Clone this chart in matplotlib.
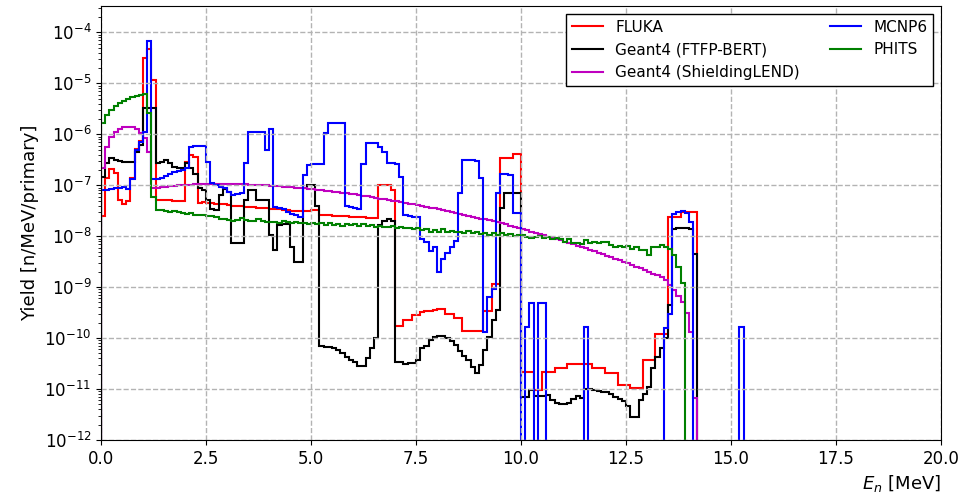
import numpy as np
import matplotlib

matplotlib.use("Agg")
import matplotlib.pyplot as plt
from matplotlib.ticker import LogLocator, NullFormatter

nan = np.nan
BIN_WIDTH = 0.1  # MeV, every code is binned on the same grid starting at 0

# log10 of the yield per 0.1 MeV bin (nan = empty bin)
fluka_log = [
    -7.60, -6.85, -6.69, -6.75, -7.28, -7.37, -7.30, -6.85, -6.28, -6.13,
    -4.51, -4.33, -4.94, -7.29, -7.29, -7.28, -7.29, -7.30, -7.30, -7.30,
    -6.55, -6.40, -6.45, -7.35, -7.33, -7.34, -7.35, -7.36, -7.37, -7.37,
    -7.38, -7.40, -7.40, -7.41, -7.42, -7.42, -7.43, -7.44, -7.45, -7.45,
    -7.46, -7.47, -7.47, -7.48, -7.49, -7.50, -7.51, -7.51, -7.50, -7.50,
    -7.49, -7.49, -7.58, -7.59, -7.59, -7.60, -7.60, -7.61, -7.61, -7.62,
    -7.62, -7.63, -7.63, -7.64, -7.64, -7.65, -6.99, -6.99, -6.99, -7.09,
    -9.76, -9.76, -9.65, -9.65, -9.55, -9.55, -9.48, -9.47, -9.46, -9.45,
    -9.43, -9.42, -9.52, -9.52, -9.61, -9.61, -9.87, -9.87, -9.87, -9.87,
    -9.87, -9.46, -9.46, -8.93, -8.93, -6.47, -6.47, -6.47, -6.39, -6.39,
    -10.67, -10.67, -10.67, -11.01, -11.01, -10.67, -10.67, -10.67, -10.59, -10.59,
    -10.59, -10.50, -10.50, -10.50, -10.50, -10.50, -10.50, -10.59, -10.59, -10.59,
    -10.69, -10.69, -10.69, -10.92, -10.92, -10.92, -10.97, -10.97, -10.97, -10.42,
    -10.42, -10.42, -9.92, -9.92, -9.92, -7.62, -7.62, -7.62, -7.52, -7.52,
    -7.52, -7.52,
]

ftfp_log = [
    -6.83, -6.56, -6.47, -6.51, -6.53, -6.54, -6.54, -6.54, -6.35, -6.20,
    -5.49, -5.49, -5.49, -6.57, -6.55, -6.51, -6.57, -6.64, -6.67, -6.67,
    -6.57, -6.67, -6.77, -7.05, -7.10, -7.29, -7.46, -7.49, -7.19, -7.08,
    -7.14, -8.14, -8.14, -8.13, -7.29, -7.10, -7.10, -7.29, -7.29, -7.29,
    -7.98, -8.27, -7.78, -7.76, -7.76, -8.21, -8.50, -8.50, -7.06, -7.00,
    -7.00, -7.41, -10.16, -10.17, -10.18, -10.20, -10.24, -10.30, -10.38, -10.42,
    -10.46, -10.54, -10.54, -10.39, -10.20, -9.99, -7.78, -7.70, -7.67, -7.70,
    -10.46, -10.46, -10.51, -10.48, -10.48, -10.42, -10.20, -10.16, -10.04, -9.97,
    -9.95, -9.96, -10.00, -10.06, -10.14, -10.25, -10.36, -10.43, -10.57, -10.69,
    -10.53, -10.24, -9.97, -9.65, -9.45, -7.45, -7.15, -7.15, -7.15, -7.15,
    -11.15, -11.15, -11.02, -11.14, -11.14, -11.13, -11.12, -11.22, -11.27, -11.29,
    -11.29, -11.27, -11.20, -11.14, -11.17, -10.99, -10.99, -11.01, -11.03, -11.05,
    -11.06, -11.10, -11.15, -11.20, -11.24, -11.33, -11.54, -11.54, -11.22, -11.10,
    -10.95, -10.59, -10.37, -10.20, -10.00, -9.35, -7.85, -7.83, -7.83, -7.83,
    -7.85, -8.34,
]

shielding_log = [
    -6.67, -6.24, -6.06, -5.95, -5.89, -5.85, -5.85, -5.86, -5.90, -5.97,
    -6.08, -6.35, -7.06, -7.05, -7.04, -7.03, -7.02, -7.01, -7.00, -7.00,
    -6.99, -6.99, -6.98, -6.98, -6.97, -6.97, -6.97, -6.97, -6.97, -6.97,
    -6.97, -6.97, -6.98, -6.98, -6.98, -6.99, -6.99, -6.99, -7.00, -7.00,
    -7.01, -7.01, -7.02, -7.03, -7.03, -7.04, -7.05, -7.05, -7.06, -7.07,
    -7.08, -7.09, -7.10, -7.11, -7.12, -7.13, -7.14, -7.15, -7.16, -7.17,
    -7.18, -7.20, -7.21, -7.22, -7.23, -7.25, -7.26, -7.27, -7.29, -7.30,
    -7.31, -7.33, -7.34, -7.36, -7.37, -7.39, -7.40, -7.42, -7.44, -7.45,
    -7.47, -7.49, -7.51, -7.53, -7.54, -7.56, -7.58, -7.60, -7.62, -7.64,
    -7.66, -7.67, -7.69, -7.71, -7.73, -7.75, -7.77, -7.79, -7.81, -7.83,
    -7.86, -7.88, -7.91, -7.93, -7.96, -7.98, -8.01, -8.03, -8.06, -8.08,
    -8.11, -8.14, -8.16, -8.19, -8.22, -8.24, -8.27, -8.30, -8.33, -8.35,
    -8.38, -8.41, -8.44, -8.47, -8.50, -8.53, -8.56, -8.60, -8.63, -8.67,
    -8.70, -8.74, -8.77, -8.81, -8.86, -8.95, -9.05, -9.17, -9.30, -9.50,
    -9.88, -11.18,
]

mcnp_log = [
    -7.10, -7.09, -7.08, -7.06, -7.05, -7.04, -7.07, -6.88, -6.30, -6.15,
    -5.95, -4.16, -6.87, -6.87, -6.85, -6.82, -6.77, -6.74, -6.72, -6.70,
    -6.67, -6.24, -6.23, -6.23, -6.23, -6.54, -6.96, -7.00, -7.03, -7.06,
    -7.13, -7.19, -7.18, -7.16, -6.56, -5.95, -5.95, -5.95, -5.96, -6.31,
    -5.89, -7.42, -7.44, -7.47, -7.52, -7.56, -7.59, -7.63, -6.80, -6.60,
    -6.59, -6.59, -6.59, -5.98, -5.77, -5.77, -5.77, -5.77, -7.41, -7.43,
    -7.45, -7.47, -6.59, -6.18, -6.18, -6.18, -6.25, -6.34, -6.56, -6.57,
    -6.58, -6.83, -7.59, -7.60, -7.62, -7.62, -8.05, -8.12, -8.30, -8.22,
    -8.70, -8.45, -8.32, -8.22, -8.10, -7.15, -6.51, -6.51, -6.51, -6.52,
    -6.85, -9.88, -9.19, -9.03, -7.16, -6.78, -6.78, -6.80, -7.55, -7.55,
    nan, -9.78, -9.31, nan, -9.31, -9.31, nan, nan, nan, nan,
    nan, nan, nan, nan, nan, -9.78, nan, nan, nan, nan,
    nan, nan, nan, nan, nan, nan, nan, nan, nan, nan,
    nan, nan, nan, nan, -9.81, -9.52, -7.56, -7.53, -7.50, -7.55,
    -7.72, nan, nan, nan, nan, nan, nan, nan, nan, nan,
    nan, nan, -9.78,
]

phits_log = [
    -5.77, -5.62, -5.52, -5.45, -5.39, -5.35, -5.30, -5.27, -5.24, -5.22,
    -5.21, -5.59, -7.23, -7.48, -7.49, -7.50, -7.52, -7.50, -7.53, -7.55,
    -7.57, -7.55, -7.59, -7.59, -7.59, -7.60, -7.61, -7.63, -7.67, -7.66,
    -7.68, -7.70, -7.69, -7.65, -7.69, -7.70, -7.71, -7.67, -7.71, -7.72,
    -7.72, -7.73, -7.74, -7.71, -7.73, -7.74, -7.72, -7.75, -7.74, -7.76,
    -7.75, -7.77, -7.74, -7.78, -7.75, -7.78, -7.76, -7.79, -7.76, -7.78,
    -7.77, -7.80, -7.77, -7.80, -7.78, -7.81, -7.79, -7.82, -7.81, -7.80,
    -7.83, -7.81, -7.84, -7.83, -7.85, -7.84, -7.87, -7.85, -7.91, -7.88,
    -7.91, -7.85, -7.92, -7.89, -7.92, -7.91, -7.93, -7.90, -7.94, -7.92,
    -7.95, -7.93, -7.97, -7.94, -7.97, -7.94, -7.98, -7.95, -7.99, -7.97,
    -7.98, -8.02, -8.04, -8.02, -8.00, -8.04, -8.02, -8.06, -8.04, -8.05,
    -8.11, -8.06, -8.14, -8.13, -8.16, -8.08, -8.13, -8.11, -8.14, -8.11,
    -8.12, -8.18, -8.21, -8.20, -8.22, -8.20, -8.26, -8.21, -8.27, -8.27,
    -8.37, -8.21, -8.21, -8.18, -8.21, -8.25, -8.37, -8.60, -8.92,
]

labels = ["FLUKA", "Geant4 (FTFP-BERT)", "Geant4 (ShieldingLEND)", "MCNP6", "PHITS"]
colors = ["r", "k", "m", "b", "g"]


def to_yield(log_values):
    v = np.array(log_values, dtype=float)
    return np.where(np.isnan(v), 0.0, 10.0 ** v)


plt.rcParams["font.size"] = 11

fig = plt.figure(figsize=(9.66, 4.99), dpi=100)
ax = fig.add_axes([101 / 966, 59 / 499, 840 / 966, 434 / 499])

for label, logs, color in zip(
    labels, [fluka_log, ftfp_log, shielding_log, mcnp_log, phits_log], colors
):
    y = to_yield(logs)
    edges = np.arange(len(y) + 1) * BIN_WIDTH
    ax.stairs(y, edges, color=color, label=label, linewidth=1.5)

ax.set_yscale("log")
ax.set_xlim(0, 20)
ax.set_ylim(1e-12, 3.3e-4)
ax.yaxis.set_major_locator(LogLocator(base=10, numticks=20))
ax.yaxis.set_minor_locator(LogLocator(base=10, subs=np.arange(2, 10), numticks=20))
ax.yaxis.set_minor_formatter(NullFormatter())
ax.tick_params(labelsize=12)
ax.grid(True, which="major", linestyle="--", color="0.7", linewidth=1)

ax.set_xlabel("$E_n$ [MeV]", loc="right", fontsize=13)
ax.set_ylabel("Yield [n/MeV/primary]", fontsize=13)
ax.legend(ncol=2, loc="upper right", framealpha=1, edgecolor="k", fancybox=False, fontsize=11)

fig.savefig("out.png", dpi=100)
